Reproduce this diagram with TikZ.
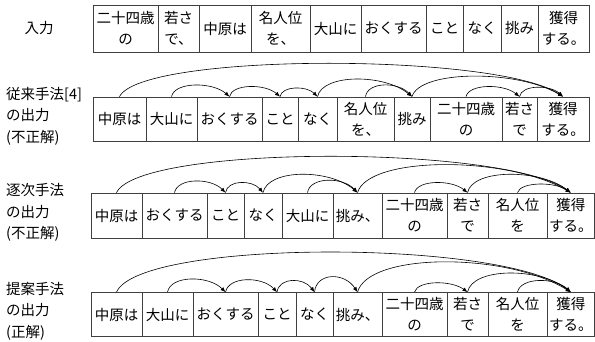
\documentclass[tikz,border=0pt]{standalone}
\usepackage{fontspec}
\newfontfamily\jpfont{Noto Sans CJK JP}
\usetikzlibrary{arrows.meta}
\tikzset{
  cell/.style={draw=black!75, line width=0.75pt, inner sep=0pt, align=center,
    font=\jpfont\fontsize{14.5}{21}\selectfont},
  lbl/.style={inner sep=0pt, align=left, anchor=west,
    font=\jpfont\fontsize{14.5}{21.5}\selectfont},
  toplbl/.style={inner sep=0pt, align=center,
    font=\jpfont\fontsize{14.5}{21.5}\selectfont},
  arc/.style={draw=black, line width=0.6pt, -{Latex[length=5pt,width=4pt]}}
}
\newcommand\mkcell[5]{%
  \pgfmathsetmacro\cw{#3-#2}%
  \pgfmathsetmacro\cx{(#2+#3)/2}%
  \node[cell, minimum width=\cw pt, minimum height=\rowh pt] (#1) at (\cx,#4) {#5};}
\newcommand\arcc[5]{%
  \draw[arc] (#1.north) .. controls +(#3,-#5) and +(-#4,-#5) .. (#2.north);}
\begin{document}
\begin{tikzpicture}[x=1pt,y=-1pt]
\useasboundingbox (0,0) rectangle (595,341);

% labels
\node[toplbl] (l1) at (39,28.5) {入力};
\node[lbl] (l2) at (6,116) {従来手法[4]\\の出力\\(不正解)};
\node[lbl] (l3) at (6,212.5) {逐次手法\\の出力\\(不正解)};
\node[lbl] (l4) at (6,311) {提案手法\\の出力\\(正解)};

% row 1
\def\rowh{47}
\mkcell{r1a}{93}{158}{28.5}{二十四歳\\の}
\mkcell{r1b}{158}{199}{28.5}{若さ\\で、}
\mkcell{r1c}{199}{251}{28.5}{中原は}
\mkcell{r1d}{251}{310}{28.5}{名人位\\を、}
\mkcell{r1e}{310}{361}{28.5}{大山に}
\mkcell{r1f}{361}{426}{28.5}{おくする}
\mkcell{r1g}{426}{463}{28.5}{こと}
\mkcell{r1h}{463}{501}{28.5}{なく}
\mkcell{r1i}{501}{538}{28.5}{挑み}
\mkcell{r1j}{538}{589}{28.5}{獲得\\する。}

% row 2
\def\rowh{44}
\mkcell{r2a}{93}{146}{119}{中原は}
\mkcell{r2b}{146}{197}{119}{大山に}
\mkcell{r2c}{197}{262}{119}{おくする}
\mkcell{r2d}{262}{298}{119}{こと}
\mkcell{r2e}{298}{337}{119}{なく}
\mkcell{r2f}{337}{394}{119}{名人位\\を、}
\mkcell{r2g}{394}{430}{119}{挑み}
\mkcell{r2h}{430}{502}{119}{二十四歳\\の}
\mkcell{r2i}{502}{537}{119}{若さ\\で}
\mkcell{r2j}{537}{589}{119}{獲得\\する。}

\arcc{r2a}{r2j}{22}{66}{44}
\arcc{r2b}{r2c}{3}{17}{15}
\arcc{r2c}{r2d}{2.5}{15}{13}
\arcc{r2d}{r2e}{2}{11}{11}
\arcc{r2e}{r2g}{5}{28}{23}
\arcc{r2f}{r2g}{2}{14}{15}
\arcc{r2g}{r2j}{8}{45}{27}
\arcc{r2h}{r2i}{3}{16}{13}
\arcc{r2i}{r2j}{2}{13}{12}

% row 3
\def\rowh{45}
\mkcell{r3a}{91}{142}{215.5}{中原は}
\mkcell{r3b}{142}{207}{215.5}{おくする}
\mkcell{r3c}{207}{244}{215.5}{こと}
\mkcell{r3d}{244}{282}{215.5}{なく}
\mkcell{r3e}{282}{333}{215.5}{大山に}
\mkcell{r3f}{333}{382}{215.5}{挑み、}
\mkcell{r3g}{382}{447}{215.5}{二十四歳\\の}
\mkcell{r3h}{447}{488}{215.5}{若さ\\で}
\mkcell{r3i}{488}{547}{215.5}{名人位\\を}
\mkcell{r3j}{547}{594.5}{215.5}{獲得\\する。}

\arcc{r3a}{r3j}{23}{68}{48}
\arcc{r3b}{r3c}{3}{15}{15}
\arcc{r3c}{r3d}{2}{11}{13}
\arcc{r3d}{r3f}{5}{28}{24}
\arcc{r3e}{r3f}{2.5}{15}{16}
\arcc{r3f}{r3j}{11}{64}{37}
\arcc{r3g}{r3h}{3}{16}{13}
\arcc{r3h}{r3j}{5}{31}{24}
\arcc{r3i}{r3j}{3}{16}{11}

% row 4
\def\rowh{44}
\mkcell{r4a}{91}{142}{314.5}{中原は}
\mkcell{r4b}{142}{193}{314.5}{大山に}
\mkcell{r4c}{193}{258}{314.5}{おくする}
\mkcell{r4d}{258}{296}{314.5}{こと}
\mkcell{r4e}{296}{333}{314.5}{なく}
\mkcell{r4f}{333}{382}{314.5}{挑み、}
\mkcell{r4g}{382}{447}{314.5}{二十四歳\\の}
\mkcell{r4h}{447}{488}{314.5}{若さ\\で}
\mkcell{r4i}{488}{547}{314.5}{名人位\\を}
\mkcell{r4j}{547}{594.5}{314.5}{獲得\\する。}

\arcc{r4a}{r4j}{23}{68}{53}
\arcc{r4b}{r4c}{3}{17}{17}
\arcc{r4c}{r4d}{3}{15}{16}
\arcc{r4d}{r4e}{2}{11}{15}
\arcc{r4e}{r4f}{2}{13}{20}
\arcc{r4f}{r4j}{11}{64}{40}
\arcc{r4g}{r4h}{3}{16}{12}
\arcc{r4h}{r4j}{5}{31}{25}
\arcc{r4i}{r4j}{3}{16}{15}
\end{tikzpicture}
\end{document}
